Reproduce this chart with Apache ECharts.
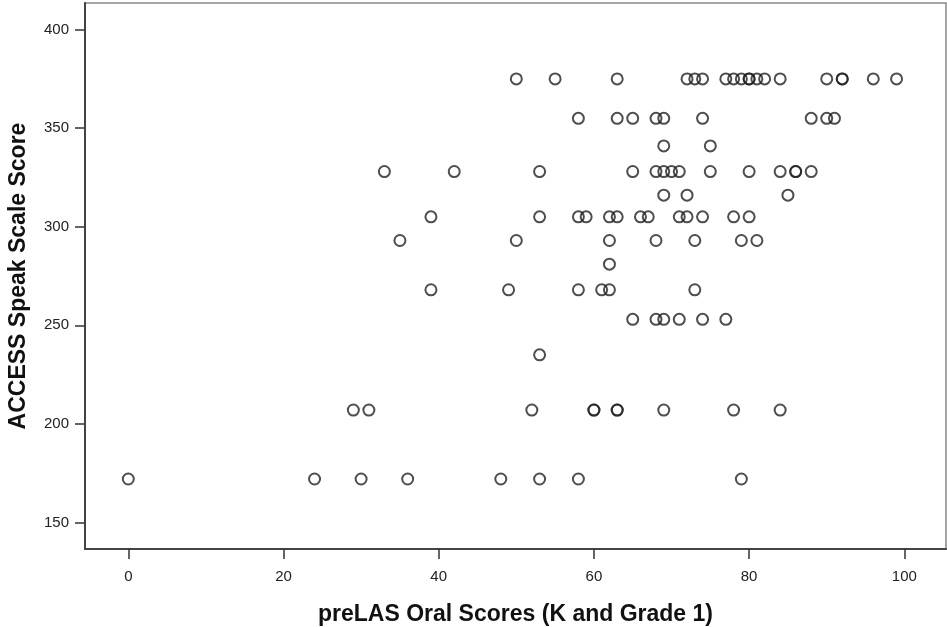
<!DOCTYPE html>
<html>
<head>
<meta charset="utf-8">
<script src="https://cdn.jsdelivr.net/npm/echarts@6/dist/echarts.min.js"></script>
<style>
  html, body { margin: 0; padding: 0; background: #fff; }
  #chart { width: 947px; height: 627px; }
</style>
</head>
<body>
<div id="chart"></div>
<script>
// preLAS Oral Scores (x) and ACCESS Speak Scale Scores (y), one pair per student
const prelasScores = [
  50, 55, 63, 72, 73, 74, 77, 78, 79, 80, 80, 81, 82, 84, 90, 92, 92, 96, 99,
  58, 63, 65, 68, 69, 74, 88, 90, 91,
  69, 75,
  33, 42, 53, 65, 68, 69, 70, 71, 75, 80, 84, 86, 86, 88,
  69, 72, 85,
  39, 53, 58, 59, 62, 63, 66, 67, 71, 72, 74, 78, 80,
  35, 50, 62, 68, 73, 79, 81,
  62,
  39, 49, 58, 61, 62, 73,
  65, 68, 69, 71, 74, 77,
  53,
  29, 31, 52, 60, 60, 63, 63, 69, 78, 84,
  0, 24, 30, 36, 48, 53, 58, 79
];
const accessScores = [
  375, 375, 375, 375, 375, 375, 375, 375, 375, 375, 375, 375, 375, 375, 375, 375, 375, 375, 375,
  355, 355, 355, 355, 355, 355, 355, 355, 355,
  341, 341,
  328, 328, 328, 328, 328, 328, 328, 328, 328, 328, 328, 328, 328, 328,
  316, 316, 316,
  305, 305, 305, 305, 305, 305, 305, 305, 305, 305, 305, 305, 305,
  293, 293, 293, 293, 293, 293, 293,
  281,
  268, 268, 268, 268, 268, 268,
  253, 253, 253, 253, 253, 253,
  235,
  207, 207, 207, 207, 207, 207, 207, 207, 207, 207,
  172, 172, 172, 172, 172, 172, 172, 172
];
const xTicks = [0, 20, 40, 60, 80, 100];
const yTicks = [150, 200, 250, 300, 350, 400];
const xTitle = 'preLAS Oral Scores (K and Grade 1)';
const yTitle = 'ACCESS Speak Scale Score';

const points = prelasScores.map((x, i) => [x, accessScores[i]]);

const chart = echarts.init(document.getElementById('chart'), null, { renderer: 'canvas' });
const axisFont = 'Liberation Sans, Arial, sans-serif';
chart.setOption({
  animation: false,
  backgroundColor: '#ffffff',
  grid: {
    left: 85, right: 1, top: 3, bottom: 78,
    containLabel: false,
    outerBoundsMode: 'none',
    show: true, borderColor: '#888', borderWidth: 1.5, backgroundColor: '#fff'
  },
  xAxis: {
    type: 'value',
    min: -5.58, max: 105.37,
    name: xTitle,
    nameLocation: 'middle',
    nameGap: 54,
    nameTextStyle: { fontFamily: axisFont, fontWeight: 'bold', fontSize: 23, color: '#111' },
    axisLine: { show: true, onZero: false, lineStyle: { color: '#444', width: 2 } },
    axisTick: { show: true, length: 10, customValues: xTicks, lineStyle: { color: '#333', width: 1.5 } },
    axisLabel: { customValues: xTicks, margin: 20, fontFamily: axisFont, fontSize: 15, color: '#222' },
    splitLine: { show: false }
  },
  yAxis: {
    type: 'value',
    min: 136.5, max: 413.5,
    name: yTitle,
    nameLocation: 'middle',
    nameRotate: 90,
    nameGap: 55,
    nameTextStyle: { fontFamily: axisFont, fontWeight: 'bold', fontSize: 23, color: '#111' },
    axisLine: { show: true, onZero: false, lineStyle: { color: '#444', width: 2 } },
    axisTick: { show: true, length: 10, customValues: yTicks, lineStyle: { color: '#333', width: 1.5 } },
    axisLabel: { customValues: yTicks, margin: 16, fontFamily: axisFont, fontSize: 15, color: '#222' },
    splitLine: { show: false }
  },
  series: [{
    type: 'scatter',
    data: points,
    symbol: 'circle',
    symbolSize: 11,
    itemStyle: { color: 'rgba(0,0,0,0)', borderColor: '#222', borderWidth: 2 },
    emphasis: { disabled: true }
  }]
});
</script>
</body>
</html>
